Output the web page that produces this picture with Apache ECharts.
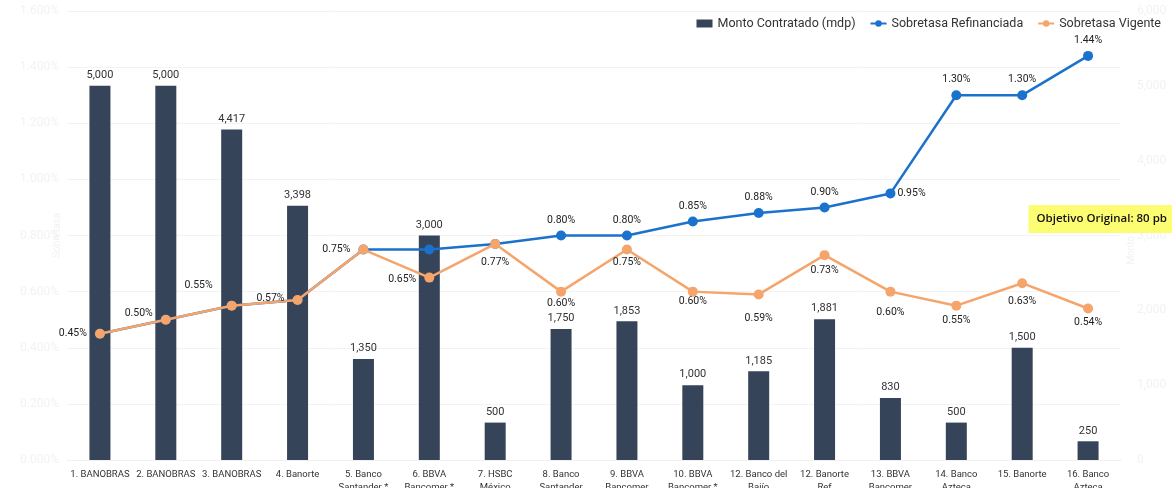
<!DOCTYPE html>
<html>
<head>
<meta charset="utf-8">
<script src="https://cdn.jsdelivr.net/npm/echarts@6/dist/echarts.min.js"></script>
<style>
  html, body { margin: 0; padding: 0; background: #fff; }
  #chart { width: 1172px; height: 488px; }
</style>
</head>
<body>
<div id="chart"></div>
<script>
// categorías (eje x)
const categorias = [
  "1. BANOBRAS", "2. BANOBRAS", "3. BANOBRAS", "4. Banorte",
  "5. Banco\nSantander *", "6. BBVA\nBancomer *", "7. HSBC\nMéxico", "8. Banco\nSantander",
  "9. BBVA\nBancomer", "10. BBVA\nBancomer *", "12. Banco del\nBajío", "12. Banorte\nRef",
  "13. BBVA\nBancomer", "14. Banco\nAzteca", "15. Banorte", "16. Banco\nAzteca"
];
// monto contratado (mdp)
const montos = [5000, 5000, 4417, 3398, 1350, 3000, 500, 1750, 1853, 1000, 1185, 1881, 830, 500, 1500, 250];
// sobretasas (%)
const refinanciada = [0.45, 0.50, 0.55, 0.57, 0.75, 0.75, 0.77, 0.80, 0.80, 0.85, 0.88, 0.90, 0.95, 1.30, 1.30, 1.44];
const vigente = [0.45, 0.50, 0.55, 0.57, 0.75, 0.65, 0.77, 0.60, 0.75, 0.60, 0.59, 0.73, 0.60, 0.55, 0.63, 0.54];

// posiciones de etiquetas
const posVigente = ["left", "left", "left", "left", "left", "left", "bottom", "bottom",
  "bottom", "bottom", "bottom", "bottom", "bottom", "bottom", "bottom", "bottom"];
const offVigente = [[0, 0], [0, -6], [-6, -20], [0, -2], [0, 0], [0, 2], [0, 0], [0, -7],
  [0, -6], [0, -9], [0, 5], [0, -3], [0, 2], [0, -4], [0, 0], [0, -5]];

const chart = echarts.init(document.getElementById("chart"));
const faint = "#f2f2f2";
const fuente = "Roboto";

chart.setOption({
  animation: false,
  textStyle: { fontFamily: fuente },
  legend: {
    right: 6,
    top: 12,
    itemGap: 14,
    itemWidth: 16,
    itemHeight: 8,
    textStyle: { fontSize: 12.5, color: "#333", fontFamily: fuente },
    data: [
      { name: "Monto Contratado (mdp)", icon: "rect" },
      "Sobretasa Refinanciada",
      "Sobretasa Vigente"
    ]
  },
  grid: { left: 67, right: 51, top: 11, bottom: 28, outerBoundsMode: "none", containLabel: false },
  xAxis: {
    type: "category",
    data: categorias,
    axisTick: { show: false },
    axisLine: { lineStyle: { color: "#f0f0f0" } },
    axisLabel: { interval: 0, color: "#333", fontSize: 9.5, lineHeight: 13, margin: 8 }
  },
  yAxis: [
    {
      type: "value",
      min: 0, max: 1.6, interval: 0.2,
      name: "Sobretasa",
      nameLocation: "middle",
      nameGap: 5,
      nameMoveOverlap: false,
      nameTextStyle: { color: faint, fontSize: 10 },
      axisLabel: { color: faint, fontSize: 12, formatter: v => v.toFixed(3) + "%" },
      splitLine: { lineStyle: { color: "#f3f3f3" } }
    },
    {
      type: "value",
      min: 0, max: 6000, interval: 1000,
      name: "Monto (mdp)",
      nameLocation: "middle",
      nameGap: 5,
      nameMoveOverlap: false,
      nameTextStyle: { color: faint, fontSize: 10 },
      axisLabel: { color: faint, fontSize: 12, margin: 16,
        formatter: v => v.toLocaleString("en-US") },
      splitLine: { show: false }
    }
  ],
  series: [
    {
      name: "Monto Contratado (mdp)",
      type: "bar",
      yAxisIndex: 1,
      data: montos,
      barWidth: 21,
      itemStyle: { color: "#354458" },
      label: { show: true, position: "top", color: "#333", fontSize: 11,
        formatter: p => p.value.toLocaleString("en-US") }
    },
    {
      name: "Sobretasa Refinanciada",
      type: "line",
      yAxisIndex: 0,
      data: refinanciada.map((v, i) => ({
        value: v,
        label: i < 7 ? { show: false } : (i === 12 ? { position: "right", distance: 2 } : {})
      })),
      symbol: "circle",
      symbolSize: 10,
      lineStyle: { width: 2.5, color: "#1a72cc" },
      itemStyle: { color: "#1a72cc" },
      label: { show: true, position: "top", color: "#222", fontSize: 10.5,
        formatter: p => p.value.toFixed(2) + "%" },
      z: 3
    },
    {
      name: "Sobretasa Vigente",
      type: "line",
      yAxisIndex: 0,
      data: vigente.map((v, i) => ({
        value: v,
        label: { position: posVigente[i], offset: offVigente[i] }
      })),
      symbol: "circle",
      symbolSize: 10,
      lineStyle: { width: 2.5, color: "#f5a56b" },
      itemStyle: { color: "#f5a56b" },
      label: { show: true, color: "#222", fontSize: 10.5, distance: 8,
        formatter: p => p.value.toFixed(2) + "%" },
      z: 4
    }
  ],
  graphic: [
    {
      type: "text",
      right: 0,
      top: 205,
      style: {
        text: "Objetivo Original: 80 pb",
        fontSize: 11.5,
        fontFamily: "Open Sans",
        fontWeight: 600,
        fill: "#111",
        backgroundColor: "#fdfd72",
        padding: [8, 5, 8, 8]
      },
      z: 10
    }
  ]
});
</script>
</body>
</html>
